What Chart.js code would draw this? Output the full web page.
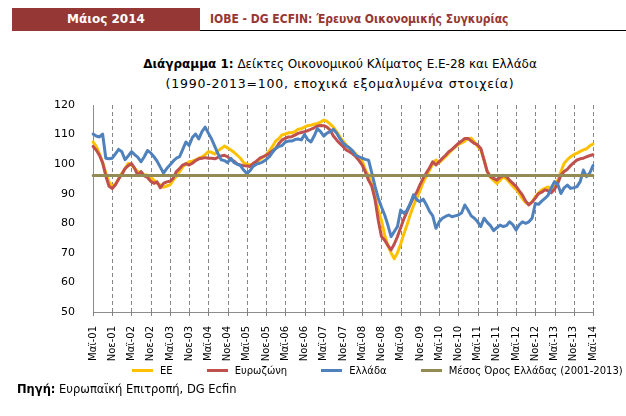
<!DOCTYPE html>
<html>
<head>
<meta charset="utf-8">
<script src="https://cdn.jsdelivr.net/npm/chart.js@4.4.1/dist/chart.umd.min.js"></script>
<style>
  body { margin: 0; background: #fff; }
  #page { position: relative; width: 626px; height: 416px; overflow: hidden; font-family: 'DejaVu Sans', sans-serif; color: #000; }
  #month { position: absolute; left: 12px; top: 8px; width: 188px; height: 23px; background: #953735; color: #fff;
           font: bold 12px 'DejaVu Sans', sans-serif; line-height: 23px; text-align: center; }
  #head { position: absolute; left: 210px; top: 12px; color: #953735; font: bold 12px 'DejaVu Sans Condensed', 'DejaVu Sans', sans-serif; white-space: nowrap; }
  #rule { position: absolute; left: 200px; right: 0; top: 30px; border-top: 1.5px solid #000; }
  #title { position: absolute; left: 0; width: 680px; top: 55px; text-align: center; font-size: 12px; line-height: 19px; }
  #title .l2 { font-size: 12.5px; letter-spacing: 0.8px; }
  canvas { position: absolute; left: 0; top: 0; }
  #legend { position: absolute; left: 132px; top: 365px; display: flex; align-items: center; font-size: 10px; white-space: nowrap; }
  #legend .sw { display: inline-block; width: 21px; height: 3px; margin-right: 7px; }
  #legend .lb { margin-right: 34px; }
  #source { position: absolute; left: 17px; top: 382px; font-size: 11.5px; white-space: nowrap; }
</style>
</head>
<body>
<div id="page">
  <div id="month">Μάιος 2014</div>
  <div id="head">IOBE - DG ECFIN: Έρευνα Οικονομικής Συγκυρίας</div>
  <div id="rule"></div>
  <div id="title"><b>Διάγραμμα 1:</b> Δείκτες Οικονομικού Κλίματος Ε.Ε-28 και Ελλάδα<br><span class="l2">(1990-2013=100, εποχικά εξομαλυμένα στοιχεία)</span></div>
  <canvas id="myChart" width="626" height="416"></canvas>
  <div id="legend"></div>
  <div id="source"><b>Πηγή:</b> Ευρωπαϊκή Επιτροπή, DG Ecfin</div>
</div>
<script>
// monthly, May 2001 - May 2014
const MONTHS = ['Ιαν', 'Φεβ', 'Μαρ', 'Απρ', 'Μαϊ', 'Ιουν', 'Ιουλ', 'Αυγ', 'Σεπ', 'Οκτ', 'Νοε', 'Δεκ'];
const labels = [];
for (let y = 2001; y <= 2014; y++) {
  for (let m = 0; m < 12; m++) {
    if (y === 2001 && m < 4) continue;
    if (y === 2014 && m > 4) break;
    labels.push(MONTHS[m] + '-' + String(y).slice(2));
  }
}

const ee = [
  107.5, 106, 103.6, 100.5, 97, 94, 92.5, 93.3, 95, 96.9, 98.5, 100.3,
  99.7, 98.5, 97.5, 96.7, 96.3, 96.3, 95.5, 94.6, 93.5, 93, 92.2, 92.6,
  93, 94.6, 95.8, 97.5, 99.1, 100, 100.8, 101, 101.4, 102, 102.5, 103.2,
  104.2, 104, 103.4, 104.5, 105.3, 106.1, 105.5, 104.8, 104, 103, 102, 100.5,
  100, 99.7, 100, 100.8, 101.5, 102.3, 103.1, 104.5, 106, 107.8, 108.7, 109.9,
  110.2, 110.6, 110.6, 111, 111.8, 112, 112.5, 113, 113.2, 113.5, 113.8, 114.2,
  114.9, 114.5, 113.5, 112.5, 111, 109.3, 107.8, 106.5, 105.3, 104.5, 103.5, 102,
  101, 98, 96, 93, 89, 84.5, 81, 76, 72.5, 70, 68, 70,
  73, 76.5, 79.5, 83, 86, 88.5, 91, 93.8, 96, 98, 100, 101.4,
  100.5, 101.5, 102.5, 103.7, 104.8, 105.8, 106.7, 107.2, 107.8, 108.7, 108.8, 107.5,
  106, 104.8, 101.5, 97.5, 95.5, 94.5, 93.5, 94.5, 95.8, 95, 93.8, 92.5,
  91.5, 90, 88.3, 87, 86.5, 87.2, 89, 90.2, 91.3, 91.8, 92.3, 91.5,
  92.5, 94.6, 97.5, 100.3, 101.5, 102.5, 103.2, 103.7, 104.3, 104.8, 105.2, 106.2,
  106.8
];

const eurozone = [
  106, 104.8, 103, 100.5, 96, 92.5, 91.8, 93, 95, 96.5, 98.5, 99.5,
  100.2, 98.6, 96.2, 97.5, 96, 95.5, 94.2, 93.5, 94, 92, 93.5, 94,
  94.2, 95.2, 97.5, 98.5, 99.7, 100.2, 99.7, 100.3, 101.2, 101.8, 102, 102.2,
  102, 102, 101.8, 102.3, 102.8, 103, 102.5, 101.4, 101, 100, 99.7, 99.5,
  99.4, 99.2, 100.3, 101, 102, 102.5, 103, 103.7, 104.5, 105.3, 107, 108.2,
  108.7, 109.2, 109.3, 109.8, 110.4, 110.7, 111, 111.3, 111.8, 112.3, 112.9, 113.1,
  113, 112.5, 111.5, 109.5, 108.2, 107, 106, 104.8, 104.2, 103.5, 102.5, 101.2,
  99.7, 97.3, 94.5, 92.5, 88, 81, 75.5, 74.3, 72.5, 71, 73, 75.5,
  78.5, 81.5, 84, 86.5, 88.8, 90.5, 93, 95.2, 97, 98.8, 100.8, 99.7,
  100.8, 102, 103, 104.2, 105, 106, 107, 107.8, 108.7, 108.7, 107.8, 107,
  106.5, 105.3, 101.4, 97.5, 95.8, 95.2, 94.6, 95.5, 96.2, 95.8, 94.5, 93.5,
  92.5, 91, 89.5, 87.5, 86.2, 87.2, 88.5, 90, 90.5, 91.3, 91, 90.3,
  91.5, 93.5, 96.3, 97.5, 98.3, 99.5, 100.5, 101.4, 101.8, 102, 102.5, 102.9,
  103.2
];

const greece = [
  110.2, 109.5, 109.2, 110.2, 102, 101.8, 102, 103.5, 105, 104.2, 101.5, 102.8,
  104.2, 103.2, 102.3, 100.8, 102.5, 104.6, 103.8, 102.5, 101, 99, 97, 98.5,
  99.7, 101, 102, 102.5, 105, 107.5, 106.3, 109, 110.2, 108.5, 111, 112.5,
  110.5, 108.5, 106, 103.5, 101.5, 101.2, 100.5, 102, 100.5, 100, 99.5, 98,
  96.8, 97.8, 99.3, 100, 100.3, 100.8, 101.5, 102.5, 104, 105.3, 106, 106.3,
  107.5, 107.8, 107.8, 108.3, 108.5, 108.2, 110, 108.3, 107.5, 109.5, 112, 111,
  109.5, 110.5, 111, 111.8, 110.5, 108.7, 107.2, 106.2, 105.5, 104.5, 103, 102.5,
  102, 101.6, 101.3, 97, 92.5, 88.5, 85.5, 82.8, 79.4, 75.5, 77.2, 78.9,
  84.5, 83.4, 84.5, 86.7, 89.6, 88, 87.3, 88.2, 86.3, 84, 82.5, 78.3,
  80.5, 81.7, 82.3, 82.8, 82.2, 82.5, 82.8, 83.5, 86.2, 84.5, 82.5, 81.7,
  80.5, 78.9, 81.7, 80.3, 79.2, 77.5, 78.5, 79.4, 78.9, 79.2, 80.5, 79.5,
  77.7, 79.5, 80.5, 80, 80.5, 81.7, 86.7, 86.4, 87.5, 88.4, 89.5, 92,
  94.1, 93.2, 90.1, 92, 92.9, 91.8, 92, 92.4, 94.1, 98, 95.8, 97,
  99.5
];

const greeceAvg = 96.2; // Μέσος Όρος Ελλάδας (2001-2013)
const yTicks = [50, 60, 70, 80, 90, 100, 110, 120];
const TICK_EVERY = 6; // one labelled tick / grid line every 6 months

const COLORS = {
  ee: '#FFC000',
  ez: '#C0504D',
  gr: '#4F81BD',
  avg: '#948A54'
};

const ctx = document.getElementById('myChart');

const data = {
  labels: labels,
  datasets: [
    { label: 'ΕΕ', data: ee, borderColor: COLORS.ee, order: 4 },
    { label: 'Ευρωζώνη', data: eurozone, borderColor: COLORS.ez, order: 3 },
    { label: 'Ελλάδα', data: greece, borderColor: COLORS.gr, order: 2 },
    { label: 'Μέσος Όρος Ελλάδας (2001-2013)', data: labels.map(() => greeceAvg), borderColor: COLORS.avg, order: 1 }
  ]
};

// dashed vertical lines + small tick marks every 6 months, placed by the x scale
const monthGrid = {
  id: 'monthGrid',
  beforeDatasetsDraw(chart) {
    const c = chart.ctx;
    const area = chart.chartArea;
    const x = chart.scales.x;
    c.save();
    c.lineWidth = 1;
    for (let i = 0; i < labels.length; i += TICK_EVERY) {
      const px = Math.round(x.getPixelForValue(i)) + 0.5;
      if (i > 0) {
        c.strokeStyle = '#868686';
        c.setLineDash([4, 3]);
        c.beginPath();
        c.moveTo(px, area.top);
        c.lineTo(px, area.bottom);
        c.stroke();
      }
      c.setLineDash([]);
      c.strokeStyle = '#808080';
      c.beginPath();
      c.moveTo(px, area.bottom);
      c.lineTo(px, area.bottom + 4);
      c.stroke();
    }
    c.restore();
  }
};

const config = {
  type: 'line',
  data,
  plugins: [monthGrid],
  options: {
    responsive: false,
    animation: false,
    devicePixelRatio: 1,
    layout: { padding: { left: 0, right: 33, top: 105, bottom: 44 } },
    elements: {
      line: { borderWidth: 3, tension: 0, borderCapStyle: 'round', borderJoinStyle: 'round' },
      point: { radius: 0 }
    },
    plugins: {
      legend: { display: false },
      tooltip: { enabled: false }
    },
    scales: {
      x: {
        type: 'category',
        offset: false,
        afterFit: (s) => { s.height = 60; },
        border: { display: true, color: '#8c8c8c', width: 1 },
        grid: { display: false },
        ticks: {
          autoSkip: false,
          maxRotation: 90,
          minRotation: 90,
          padding: 6,
          color: '#000',
          font: { family: 'DejaVu Sans', size: 10 },
          callback: (v, i) => (i % TICK_EVERY === 0 ? labels[i] : '')
        }
      },
      y: {
        min: 50,
        max: 120,
        afterFit: (s) => { s.width = 93; },
        afterBuildTicks: (s) => { s.ticks = yTicks.map(v => ({ value: v })); },
        border: { display: true, color: '#8c8c8c', width: 1 },
        grid: { display: false },
        ticks: {
          padding: 10,
          color: '#000',
          font: { family: 'DejaVu Sans', size: 11 }
        }
      }
    }
  }
};

const chart = new Chart(ctx, config);

// legend built from the chart's datasets
const legend = document.getElementById('legend');
chart.data.datasets.forEach(ds => {
  const sw = document.createElement('span');
  sw.className = 'sw';
  sw.style.background = ds.borderColor;
  const lb = document.createElement('span');
  lb.className = 'lb';
  lb.textContent = ds.label;
  legend.appendChild(sw);
  legend.appendChild(lb);
});
</script>
</body>
</html>
